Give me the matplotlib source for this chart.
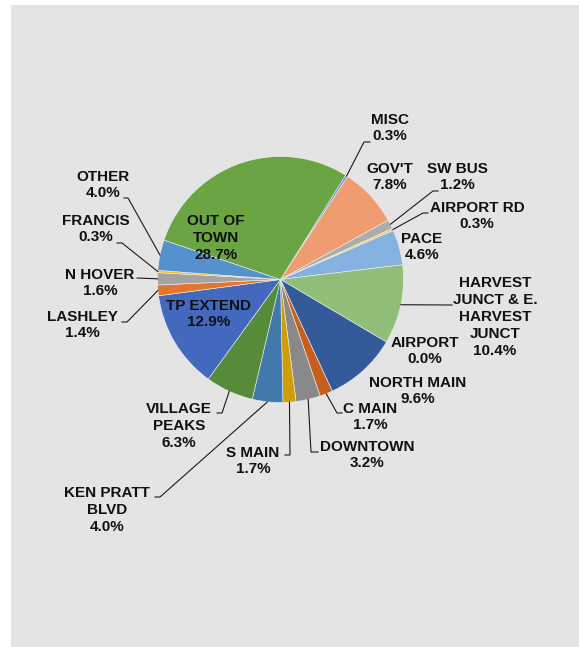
import matplotlib
matplotlib.use('Agg')
import matplotlib.pyplot as plt
from matplotlib.patches import Rectangle
import numpy as np

plt.rcParams['font.family'] = ['Liberation Sans', 'DejaVu Sans']

# data, clockwise starting at MISC
routes = ['MISC', "GOV'T", 'SW BUS', 'AIRPORT RD', 'PACE',
          'HARVEST\nJUNCT & E.\nHARVEST\nJUNCT', 'AIRPORT', 'NORTH MAIN',
          'C MAIN', 'DOWNTOWN', 'S MAIN', 'KEN PRATT\nBLVD', 'VILLAGE\nPEAKS',
          'TP EXTEND', 'LASHLEY', 'N HOVER', 'FRANCIS', 'OTHER', 'OUT OF\nTOWN']
shares = [0.3, 7.8, 1.2, 0.3, 4.6, 10.4, 0.0, 9.6, 1.7, 3.2, 1.7, 4.0, 6.3,
          12.9, 1.4, 1.6, 0.3, 4.0, 28.7]
colors = ['#5b8fd8', '#f09c71', '#acacac', '#ffc65a', '#84b1e0', '#90bd78',
          '#2f5597', '#335a99', '#c55e1f', '#898989', '#cf9d06', '#4279ac',
          '#558b39', '#4269bd', '#e2762f', '#a3a3a3', '#f5bb10', '#5592cd',
          '#6aa443']

W, H = 579, 647
cx, cy, R = 280.5, 279.5, 123
START = 32  # clock angle of first slice

# label centres (pixel coords) and leader line elbows/ends
label_pos = [(390, 128), (390, 177), (457, 177), (477, 216), (422, 247),
             (495, 317), (425, 351), (418, 391), (370, 417), (367, 455),
             (253, 461), (107, 510), (179, 426), (209, 314), (82, 325),
             (100, 283), (96, 229), (103, 185), (216, 238)]
leaders = {0: [(364, 142), (370, 142)],
           2: [(433, 191), (438, 191)],
           3: [(423, 213), (428, 213)],
           5: [(452, 305)],
           8: [(337, 413), (342, 413)],
           9: [(311, 452), (318, 452)],
           10: [(290, 455), (285, 455)],
           11: [(160, 497), (155, 497)],
           12: [(222, 413), (217, 413)],
           14: [(127, 322), (122, 322)],
           15: [(137, 278)],
           16: [(122, 243), (117, 243)],
           17: [(128, 198), (124, 198)]}


def px(x, y):
    return x, H - y


fig = plt.figure(figsize=(W / 100, H / 100), dpi=100)
fig.patch.set_facecolor('white')
ax = fig.add_axes([0, 0, 1, 1])

ax.add_patch(Rectangle((11, 0), W - 11, H - 5, facecolor='#e4e4e4',
                       edgecolor='none', zorder=0))

ax.pie(shares, colors=colors, startangle=90 - START, counterclock=False,
       center=px(cx, cy), radius=R, frame=True,
       wedgeprops=dict(edgecolor='#f2f2f2', linewidth=0.4, zorder=2))
ax.set_xlim(0, W)
ax.set_ylim(0, H)
ax.set_aspect('equal')
ax.axis('off')

cum = np.cumsum([0] + shares[:-1])
for i, (name, s) in enumerate(zip(routes, shares)):
    x, y = label_pos[i]
    ax.text(*px(x, y), f'{name}\n{s:.1f}%', ha='center', va='center',
            multialignment='center', fontsize=11, fontweight='bold',
            color='#111111', linespacing=1.27, zorder=4)
    if i in leaders:
        ang = np.deg2rad(START + 3.6 * (cum[i] + s / 2))
        pts = [(cx + R * np.sin(ang), cy - R * np.cos(ang))] + leaders[i]
        xs = [p[0] for p in pts]
        ys = [H - p[1] for p in pts]
        ax.plot(xs, ys, color='#1a1a1a', lw=0.8, zorder=3)

fig.savefig('out.png', dpi=100, facecolor='white')
